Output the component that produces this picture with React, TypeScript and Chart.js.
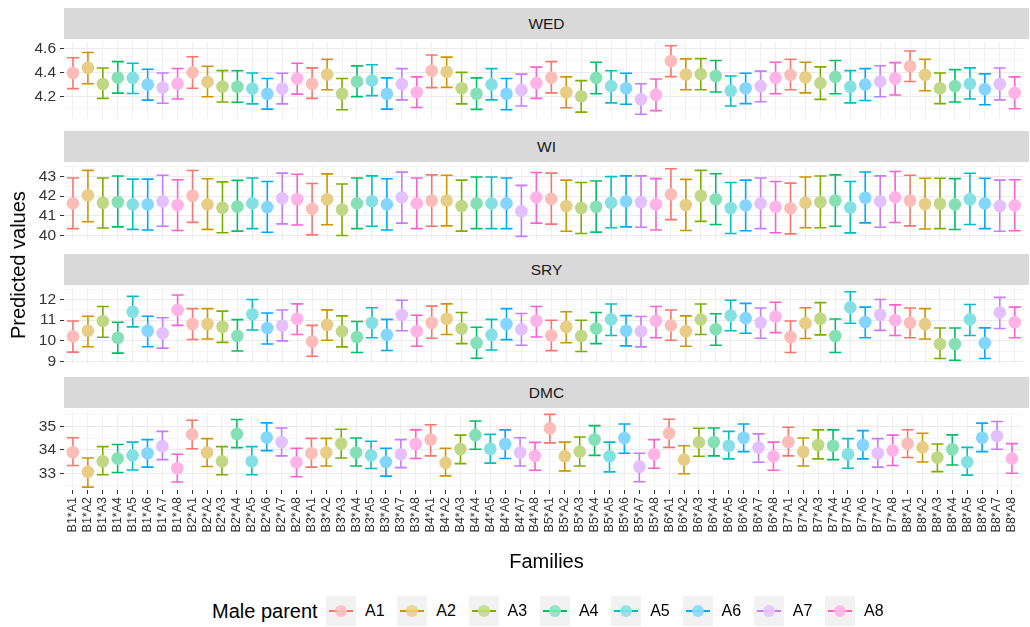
import React, { useEffect, useRef } from "react";
import { Chart, registerables } from "chart.js";

Chart.register(...registerables);

const FONT = '"Liberation Sans", Arial, Helvetica, sans-serif';

// ---------------- data ----------------
const femaleParents = ["B1", "B2", "B3", "B4", "B5", "B6", "B7", "B8"];
const maleParents = ["A1", "A2", "A3", "A4", "A5", "A6", "A7", "A8"];
const families = femaleParents.flatMap((b) => maleParents.map((a) => `${b}*${a}`));
const maleColors = ["#F8766D", "#CD9600", "#7CAE00", "#00BE67", "#00BFC4", "#00A9FF", "#C77CFF", "#FF61CC"];

const traits = ["WED", "WI", "SRY", "DMC"];

const wedMean = [
  4.395, 4.438, 4.303, 4.356, 4.354, 4.297, 4.272, 4.305,
  4.400, 4.320, 4.282, 4.280, 4.264, 4.221, 4.264, 4.349,
  4.305, 4.382, 4.221, 4.323, 4.331, 4.221, 4.303, 4.233,
  4.413, 4.405, 4.267, 4.221, 4.297, 4.221, 4.251, 4.310,
  4.356, 4.233, 4.200, 4.354, 4.285, 4.267, 4.174, 4.213,
  4.495, 4.382, 4.385, 4.369, 4.246, 4.267, 4.285, 4.354,
  4.379, 4.359, 4.310, 4.362, 4.280, 4.297, 4.323, 4.349,
  4.451, 4.379, 4.267, 4.285, 4.305, 4.259, 4.303, 4.228,
];
const wedHi = [
  4.523, 4.567, 4.436, 4.490, 4.477, 4.426, 4.395, 4.433,
  4.531, 4.451, 4.415, 4.413, 4.395, 4.349, 4.392, 4.477,
  4.438, 4.510, 4.349, 4.454, 4.464, 4.354, 4.431, 4.362,
  4.546, 4.528, 4.400, 4.354, 4.431, 4.349, 4.385, 4.444,
  4.490, 4.362, 4.331, 4.485, 4.413, 4.392, 4.305, 4.344,
  4.623, 4.513, 4.515, 4.500, 4.369, 4.392, 4.410, 4.485,
  4.510, 4.485, 4.446, 4.500, 4.415, 4.431, 4.456, 4.482,
  4.579, 4.510, 4.395, 4.423, 4.438, 4.387, 4.436, 4.362,
];
const wedLo = [
  4.264, 4.305, 4.182, 4.226, 4.223, 4.167, 4.141, 4.177,
  4.267, 4.195, 4.151, 4.149, 4.136, 4.092, 4.136, 4.218,
  4.182, 4.254, 4.087, 4.197, 4.205, 4.092, 4.169, 4.105,
  4.272, 4.274, 4.136, 4.090, 4.169, 4.087, 4.118, 4.182,
  4.228, 4.103, 4.067, 4.221, 4.144, 4.133, 4.049, 4.079,
  4.364, 4.254, 4.254, 4.236, 4.118, 4.138, 4.154, 4.221,
  4.254, 4.228, 4.174, 4.221, 4.144, 4.164, 4.195, 4.210,
  4.323, 4.246, 4.138, 4.151, 4.177, 4.128, 4.169, 4.095,
];

const wiMean = [
  41.63, 42.05, 41.66, 41.70, 41.58, 41.58, 41.74, 41.55,
  42.02, 41.58, 41.41, 41.47, 41.63, 41.44, 41.89, 41.84,
  41.35, 41.84, 41.32, 41.63, 41.74, 41.58, 41.94, 41.63,
  41.77, 41.78, 41.50, 41.63, 41.63, 41.63, 41.23, 41.94,
  41.86, 41.50, 41.39, 41.46, 41.66, 41.74, 41.70, 41.58,
  42.09, 41.55, 42.02, 41.84, 41.39, 41.53, 41.63, 41.46,
  41.38, 41.66, 41.70, 41.78, 41.42, 41.92, 41.74, 41.94,
  41.78, 41.60, 41.61, 41.58, 41.84, 41.63, 41.50, 41.53,
];
const wiHi = [
  42.93, 43.32, 42.93, 43.03, 42.87, 42.87, 43.07, 42.84,
  43.31, 42.89, 42.73, 42.81, 42.93, 42.75, 43.18, 43.12,
  42.65, 43.14, 42.62, 42.93, 43.04, 42.89, 43.23, 42.93,
  43.09, 43.07, 42.82, 42.98, 42.98, 42.93, 42.55, 43.21,
  43.18, 42.82, 42.70, 42.78, 43.00, 43.04, 43.04, 42.90,
  43.40, 42.86, 43.32, 43.15, 42.70, 42.82, 42.93, 42.75,
  42.67, 42.98, 43.03, 43.09, 42.75, 43.24, 43.04, 43.26,
  43.07, 42.92, 42.92, 42.90, 43.17, 42.92, 42.82, 42.84,
];
const wiLo = [
  40.34, 40.69, 40.37, 40.43, 40.30, 40.27, 40.46, 40.24,
  40.66, 40.30, 40.13, 40.21, 40.34, 40.15, 40.58, 40.52,
  40.02, 40.54, 39.99, 40.34, 40.46, 40.27, 40.62, 40.34,
  40.46, 40.48, 40.21, 40.34, 40.34, 40.34, 39.94, 40.62,
  40.57, 40.20, 40.09, 40.16, 40.38, 40.43, 40.41, 40.27,
  40.80, 40.24, 40.71, 40.55, 40.09, 40.23, 40.34, 40.13,
  40.07, 40.38, 40.38, 40.46, 40.12, 40.63, 40.41, 40.65,
  40.48, 40.32, 40.34, 40.29, 40.55, 40.34, 40.20, 40.23,
];

const sryMean = [
  10.22, 10.49, 10.96, 10.15, 11.41, 10.49, 10.37, 11.49,
  10.82, 10.82, 10.68, 10.24, 11.29, 10.62, 10.74, 11.07,
  9.97, 10.78, 10.47, 10.19, 10.88, 10.29, 11.25, 10.47,
  10.88, 11.07, 10.60, 9.90, 10.29, 10.82, 10.56, 10.97,
  10.26, 10.68, 10.24, 10.60, 11.04, 10.49, 10.47, 10.97,
  10.75, 10.47, 11.04, 10.56, 11.22, 11.10, 10.88, 11.18,
  10.19, 10.85, 11.07, 10.24, 11.62, 10.91, 11.26, 11.00,
  10.88, 10.81, 9.85, 9.85, 11.04, 9.90, 11.37, 10.90,
];
const sryHi = [
  10.96, 11.19, 11.66, 10.90, 12.15, 11.19, 11.12, 12.22,
  11.56, 11.56, 11.44, 11.03, 12.00, 11.35, 11.49, 11.79,
  10.75, 11.50, 11.21, 10.94, 11.60, 11.04, 11.96, 11.24,
  11.68, 11.79, 11.37, 10.66, 11.04, 11.56, 11.32, 11.66,
  11.00, 11.41, 11.00, 11.37, 11.78, 11.22, 11.18, 11.66,
  11.49, 11.21, 11.78, 11.31, 11.96, 11.81, 11.59, 11.87,
  10.96, 11.60, 11.85, 11.06, 12.37, 11.63, 12.00, 11.74,
  11.59, 11.56, 10.62, 10.62, 11.76, 10.63, 12.10, 11.63,
];
const sryLo = [
  9.46, 9.72, 10.18, 9.41, 10.68, 9.72, 9.65, 10.75,
  10.07, 10.09, 9.93, 9.51, 10.53, 9.85, 10.00, 10.31,
  9.26, 10.03, 9.71, 9.44, 10.15, 9.54, 10.49, 9.74,
  10.13, 10.31, 9.87, 9.16, 9.56, 10.06, 9.79, 10.19,
  9.53, 9.91, 9.49, 9.87, 10.26, 9.76, 9.71, 10.15,
  10.03, 9.74, 10.31, 9.79, 10.49, 10.37, 10.13, 10.40,
  9.44, 10.12, 10.29, 9.44, 10.85, 10.15, 10.51, 10.26,
  10.15, 10.09, 9.15, 9.07, 10.26, 9.15, 10.60, 10.15,
];

const dmcMean = [
  33.90, 33.07, 33.52, 33.64, 33.77, 33.86, 34.16, 33.22,
  34.66, 33.89, 33.52, 34.68, 33.52, 34.53, 34.34, 33.48,
  33.86, 33.89, 34.27, 33.89, 33.77, 33.49, 33.82, 34.25,
  34.44, 33.45, 34.04, 34.63, 34.05, 34.25, 33.89, 33.75,
  34.92, 33.73, 33.93, 34.44, 33.73, 34.51, 33.29, 33.82,
  34.71, 33.59, 34.32, 34.34, 34.18, 34.52, 34.10, 33.73,
  34.34, 33.92, 34.21, 34.18, 33.82, 34.21, 33.86, 33.97,
  34.27, 34.11, 33.68, 34.03, 33.49, 34.52, 34.59, 33.63,
];
const dmcHi = [
  34.52, 33.66, 34.14, 34.23, 34.33, 34.44, 34.79, 33.82,
  35.26, 34.48, 34.14, 35.29, 34.14, 35.15, 34.93, 34.07,
  34.49, 34.49, 34.88, 34.51, 34.37, 34.07, 34.44, 34.85,
  35.07, 34.07, 34.63, 35.23, 34.66, 34.85, 34.52, 34.32,
  35.51, 34.33, 34.55, 35.03, 34.33, 35.10, 33.86, 34.44,
  35.30, 34.18, 34.92, 34.93, 34.79, 35.10, 34.68, 34.33,
  34.96, 34.51, 34.85, 34.85, 34.48, 34.82, 34.48, 34.63,
  34.86, 34.71, 34.25, 34.64, 34.11, 35.14, 35.21, 34.27,
];
const dmcLo = [
  33.34, 32.42, 32.95, 33.04, 33.15, 33.27, 33.59, 32.64,
  34.05, 33.30, 32.95, 34.10, 32.95, 33.97, 33.75, 32.86,
  33.27, 33.32, 33.66, 33.32, 33.21, 32.89, 33.25, 33.64,
  33.75, 32.90, 33.42, 34.03, 33.44, 33.64, 33.32, 33.14,
  34.30, 33.11, 33.32, 33.77, 33.07, 33.86, 32.65, 33.22,
  34.11, 32.99, 33.73, 33.75, 33.62, 33.93, 33.48, 33.14,
  33.75, 33.32, 33.62, 33.59, 33.22, 33.62, 33.27, 33.34,
  33.68, 33.49, 33.08, 33.36, 32.93, 33.93, 34.03, 33.01,
];

const meanSeries = [wedMean, wiMean, sryMean, dmcMean];
const hiSeries = [wedHi, wiHi, sryHi, dmcHi];
const loSeries = [wedLo, wiLo, sryLo, dmcLo];

// axis settings
const yMin = [4.02, 39.72, 8.9, 32.3];
const yMax = [4.652, 43.58, 12.54, 35.64];
const yMajor = [0.2, 1, 1, 1];
const yMinor = [0.1, 0.5, 0.5, 0.5];
const yDecimals = [1, 0, 0, 0];

// ---------------- helpers ----------------
function tint(hex: string, a: number): string {
  const r = parseInt(hex.slice(1, 3), 16);
  const g = parseInt(hex.slice(3, 5), 16);
  const b = parseInt(hex.slice(5, 7), 16);
  const m = (c: number) => Math.round(c * a + 255 * (1 - a));
  return `rgb(${m(r)},${m(g)},${m(b)})`;
}

const maleIndex = families.map((f) => maleParents.indexOf(f.split("*")[1]));

const PLOT_LEFT = 64;
const PLOT_RIGHT = 1029;
const STRIP_TOP0 = 8;
const STRIP_H = 31;
const PLOT_H = 82;
const PERIOD = 123;
const PAD = 10;
const XAXIS_H = 70;

function isMajor(v: number, step: number) {
  const q = v / step;
  return Math.abs(q - Math.round(q)) < 1e-6;
}

function makeChart(canvas: HTMLCanvasElement, k: number) {
  const mean = meanSeries[k];
  const hi = hiSeries[k];
  const lo = loSeries[k];
  const bottom = k === 3;

  const datasets: any[] = [];
  maleParents.forEach((mp, m) => {
    const pts = families
      .map((_, i) => ({ x: i, y: mean[i] }))
      .filter((_, i) => maleIndex[i] === m);
    datasets.push({
      label: mp,
      data: pts,
      pointRadius: 6.3,
      pointHoverRadius: 6.3,
      pointBackgroundColor: tint(maleColors[m], 0.48),
      pointBorderWidth: 0,
      showLine: false,
    });
    datasets.push({
      label: mp + "-c",
      data: pts,
      pointRadius: 2.8,
      pointHoverRadius: 2.8,
      pointBackgroundColor: "rgba(0,0,0,0)",
      pointBorderColor: tint(maleColors[m], 0.72),
      pointBorderWidth: 1.6,
      showLine: false,
    });
  });

  const errorBars = {
    id: "errorBars" + k,
    beforeDatasetsDraw(chart: any) {
      const { ctx, scales } = chart;
      const xs = scales.x;
      const ys = scales.y;
      ctx.save();
      ctx.lineWidth = 1.6;
      for (let i = 0; i < families.length; i++) {
        const px = xs.getPixelForValue(i);
        const yh = ys.getPixelForValue(hi[i]);
        const yl = ys.getPixelForValue(lo[i]);
        ctx.strokeStyle = maleColors[maleIndex[i]];
        ctx.beginPath();
        ctx.moveTo(px, yh);
        ctx.lineTo(px, yl);
        ctx.moveTo(px - 6, yh);
        ctx.lineTo(px + 6, yh);
        ctx.moveTo(px - 6, yl);
        ctx.lineTo(px + 6, yl);
        ctx.stroke();
      }
      ctx.restore();
    },
  };

  return new Chart(canvas, {
    type: "scatter",
    data: { datasets },
    plugins: [errorBars],
    options: {
      responsive: false,
      animation: false,
      events: [],
      layout: { padding: { top: PAD, bottom: bottom ? 0 : PAD, left: 0, right: 1030 - PLOT_RIGHT } },
      plugins: { legend: { display: false }, tooltip: { enabled: false }, title: { display: false } },
      scales: {
        x: {
          type: "linear",
          min: -0.6,
          max: 63.6,
          afterFit: (s: any) => {
            s.height = bottom ? XAXIS_H : 0;
          },
          border: { display: false },
          grid: {
            color: "#EFEFEF",
            lineWidth: 1,
            drawTicks: bottom,
            tickLength: 4,
            tickColor: "#333333",
          },
          ticks: {
            display: bottom,
            stepSize: 1,
            includeBounds: false,
            autoSkip: false,
            minRotation: 90,
            maxRotation: 90,
            padding: 3,
            color: "#333333",
            font: { family: FONT, size: 12.5 },
            callback: (v: any) => {
              const n = Number(v);
              return Number.isInteger(n) && families[n] ? families[n] : "";
            },
          },
        },
        y: {
          type: "linear",
          min: yMin[k],
          max: yMax[k],
          afterFit: (s: any) => {
            s.width = PLOT_LEFT;
          },
          border: { display: false },
          grid: {
            color: (c: any) => (c.tick && isMajor(c.tick.value, yMajor[k]) ? "#EBEBEB" : "#F5F5F5"),
            lineWidth: 1,
            drawTicks: true,
            tickLength: 4,
            tickColor: (c: any) => (c.tick && isMajor(c.tick.value, yMajor[k]) ? "#333333" : "rgba(0,0,0,0)"),
          },
          ticks: {
            stepSize: yMinor[k],
            includeBounds: false,
            autoSkip: false,
            padding: 4,
            color: "#333333",
            font: { family: FONT, size: 15.5 },
            callback: (v: any) => {
              const n = Number(v);
              return isMajor(n, yMajor[k]) ? n.toFixed(yDecimals[k]) : "";
            },
          },
        },
      },
    },
  } as any);
}

export default function App() {
  const refs = [useRef<HTMLCanvasElement>(null), useRef<HTMLCanvasElement>(null), useRef<HTMLCanvasElement>(null), useRef<HTMLCanvasElement>(null)];

  useEffect(() => {
    const charts = refs.map((r, k) => makeChart(r.current as HTMLCanvasElement, k));
    return () => charts.forEach((c) => c.destroy());
  }, []);

  const textBase: React.CSSProperties = { position: "absolute", fontFamily: FONT, whiteSpace: "nowrap", lineHeight: 1 };

  return (
    <div style={{ position: "absolute", left: 0, top: 0, width: 1030, height: 627, background: "#FFFFFF", overflow: "hidden" }}>
      {traits.map((t, k) => {
        const stripTop = STRIP_TOP0 + PERIOD * k;
        const plotTop = stripTop + STRIP_H;
        const h = PLOT_H + PAD + (k === 3 ? XAXIS_H : PAD);
        return (
          <React.Fragment key={t}>
            <div
              style={{
                position: "absolute",
                left: PLOT_LEFT,
                top: stripTop,
                width: PLOT_RIGHT - PLOT_LEFT,
                height: STRIP_H,
                background: "#D9D9D9",
                display: "flex",
                alignItems: "center",
                justifyContent: "center",
                fontFamily: FONT,
                fontSize: 15.5,
                color: "#1A1A1A",
              }}
            >
              {t}
            </div>
            <canvas
              ref={refs[k]}
              width={1030}
              height={h}
              style={{ position: "absolute", left: 0, top: plotTop - PAD, width: 1030, height: h, display: "block" }}
            />
          </React.Fragment>
        );
      })}

      <div style={{ ...textBase, left: 18, top: 265, fontSize: 20, color: "#000", transform: "translate(-50%, -50%) rotate(-90deg)" }}>
        Predicted values
      </div>
      <div style={{ ...textBase, left: (PLOT_LEFT + PLOT_RIGHT) / 2, top: 561, fontSize: 20, color: "#000", transform: "translate(-50%, -50%)" }}>
        Families
      </div>

      <div style={{ ...textBase, left: 212, top: 611, fontSize: 20, color: "#000", transform: "translateY(-50%)" }}>Male parent</div>
      {maleParents.map((mp, m) => (
        <div key={mp} style={{ position: "absolute", left: 326 + m * 71.3, top: 596, height: 30, display: "flex", alignItems: "center" }}>
          <div style={{ position: "relative", width: 30, height: 30, background: "#F2F2F2" }}>
            <div style={{ position: "absolute", left: 3, top: 14, width: 24, height: 2, background: maleColors[m] }} />
            <div
              style={{
                position: "absolute",
                left: 9,
                top: 9,
                width: 12,
                height: 12,
                borderRadius: "50%",
                background: tint(maleColors[m], 0.45),
                opacity: 0.9,
              }}
            />
          </div>
          <span style={{ fontFamily: FONT, fontSize: 16, color: "#000", marginLeft: 9 }}>{mp}</span>
        </div>
      ))}
    </div>
  );
}
